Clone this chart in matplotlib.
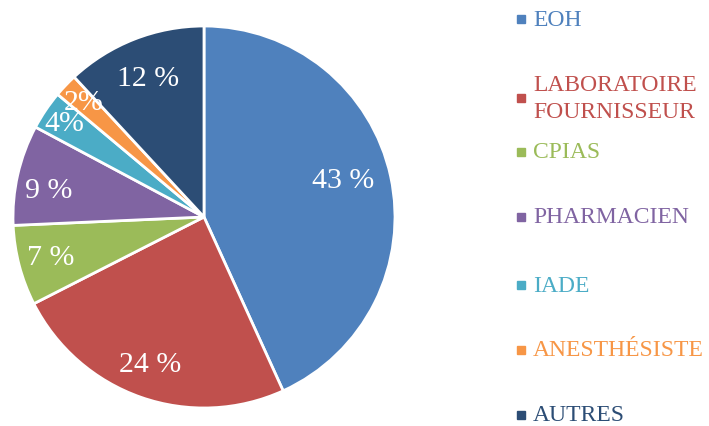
import numpy as np
import matplotlib
matplotlib.use("Agg")
import matplotlib.pyplot as plt
from matplotlib.patches import Rectangle

categories = ["EOH", "LABORATOIRE\nFOURNISSEUR", "CPIAS", "PHARMACIEN", "IADE", "ANESTHÉSISTE", "AUTRES"]
# wedge shares as measured from the slice angles
values = [43.2, 24.3, 6.8, 8.5, 3.3, 2.0, 11.9]
pct_labels = ["43 %", "24 %", "7 %", "9 %", "4%", "2%", "12 %"]
colors = ["#4F81BD", "#C0504D", "#9BBB59", "#8064A2", "#4BACC6", "#F79646", "#2C4D75"]

# layout only: radial distance and angle nudge (deg) of each label
label_dist = [0.753, 0.82, 0.83, 0.824, 0.88, 0.87, 0.785]
label_nudge = [2.7, -0.9, 0.0, 2.9, 0.0, 0.0, 0.5]
legend_y = [20, 99, 153, 218, 286, 351, 416]

plt.rcParams['font.family'] = ['Liberation Serif', 'DejaVu Serif']

W, H = 709, 427
fig = plt.figure(figsize=(W / 100, H / 100), dpi=100)

cx, cy, r = 204, 218, 191
ax = fig.add_axes([(cx - r) / W, (H - cy - r) / H, 2 * r / W, 2 * r / H])
wedges, _ = ax.pie(values, colors=colors, startangle=90, counterclock=False,
                   radius=1, wedgeprops=dict(edgecolor="white", linewidth=2))
ax.set_xlim(-1, 1)
ax.set_ylim(-1, 1)
ax.set_aspect("equal")
ax.axis("off")

for w, lab, d, nd in zip(wedges, pct_labels, label_dist, label_nudge):
    ang = np.deg2rad((w.theta1 + w.theta2) / 2 + nd)
    ax.text(d * np.cos(ang), d * np.sin(ang), lab, ha="center", va="center",
            fontsize=21.5, color="white")

for cat, col, y in zip(categories, colors, legend_y):
    fig.patches.append(Rectangle((517 / W, (H - y - 4) / H), 8 / W, 8 / H,
                                 transform=fig.transFigure, color=col))
    fig.text(533 / W, (H - y) / H, cat, ha="left", va="center", fontsize=17,
             color=col, linespacing=1.4)

fig.savefig("out.png", dpi=100)
